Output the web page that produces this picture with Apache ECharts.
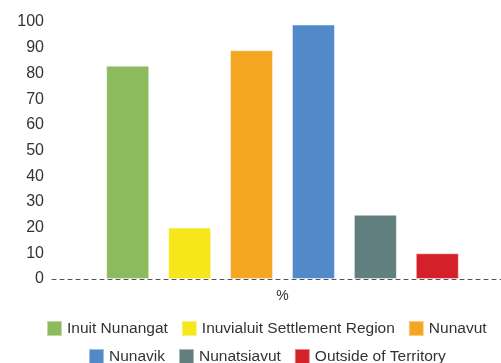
<!DOCTYPE html>
<html>
<head>
<meta charset="utf-8">
<script src="https://cdn.jsdelivr.net/npm/echarts@6/dist/echarts.min.js"></script>
<style>
  html, body { margin: 0; padding: 0; background: #fff; }
  #chart { width: 501px; height: 363px; }
</style>
</head>
<body>
<div id="chart"></div>
<script>
// Share of population (%) by region
const categories = ['%'];
const regions = ['Inuit Nunangat', 'Inuvialuit Settlement Region', 'Nunavut', 'Nunavik', 'Nunatsiavut', 'Outside of Territory'];
const values = [83, 20, 89, 99, 25, 10];
const colors = ['#8BBB5D', '#F5E71A', '#F4A522', '#5189C9', '#627F80', '#D42029'];
const yTicks = { min: 0, max: 100, step: 10 };

const chart = echarts.init(document.getElementById('chart'), null, { renderer: 'canvas' });

const series = regions.map((name, i) => ({
  name: name,
  type: 'bar',
  data: [values[i]],
  barWidth: 43,
  barGap: '44%',
  itemStyle: { color: colors[i], borderColor: 'rgba(255,255,255,0.45)', borderWidth: 1 },
  emphasis: { disabled: true }
}));

// Legend laid out in two centred rows
const legendBase = {
  itemWidth: 15,
  itemHeight: 15,
  itemGap: 13,
  padding: 0,
  icon: 'rect',
  orient: 'horizontal',
  textStyle: { fontSize: 15.5, color: '#333' }
};

chart.setOption({
  animation: false,
  textStyle: { fontFamily: 'Liberation Sans, Arial, sans-serif' },
  grid: { left: 52, top: 22, width: 461, bottom: 84, containLabel: false, outerBoundsMode: 'none' },
  legend: [
    Object.assign({}, legendBase, { data: regions.slice(0, 3), left: 46, top: 320 }),
    Object.assign({}, legendBase, { data: regions.slice(3), left: 88, top: 348 })
  ],
  xAxis: {
    type: 'category',
    data: categories,
    axisLine: { show: true, lineStyle: { color: '#555', type: [4, 4], width: 1 } },
    axisTick: { show: false },
    axisLabel: { fontSize: 14, color: '#333', margin: 10 }
  },
  yAxis: {
    type: 'value',
    min: yTicks.min,
    max: yTicks.max,
    interval: yTicks.step,
    axisLine: { show: false },
    axisTick: { show: false },
    splitLine: { show: false },
    axisLabel: { fontSize: 16, color: '#333', margin: 8 }
  },
  series: series
});
</script>
</body>
</html>
